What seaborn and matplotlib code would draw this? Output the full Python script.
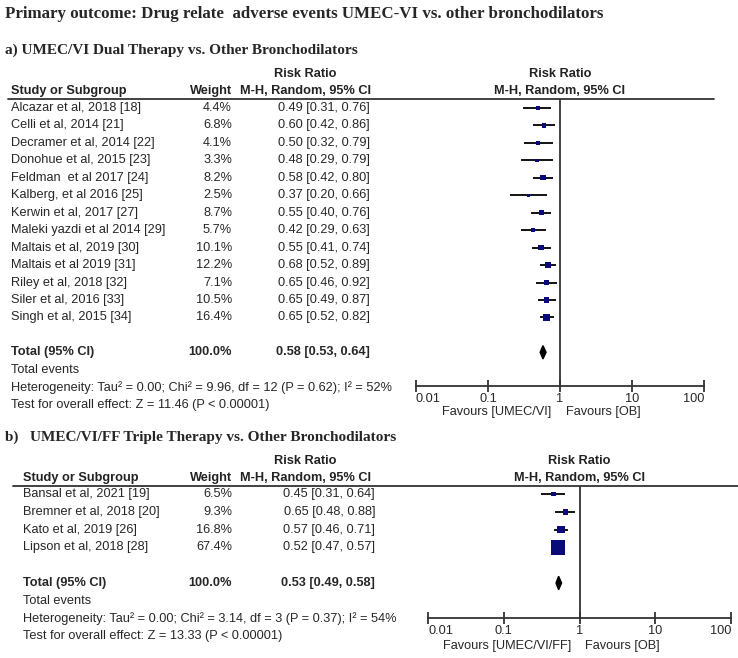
import numpy as np
import pandas as pd
import matplotlib
matplotlib.use("Agg")
import matplotlib.pyplot as plt
import seaborn as sns

# panel a data
studies_a = ["Alcazar et al, 2018 [18]", "Celli et al, 2014 [21]", "Decramer et al, 2014 [22]",
             "Donohue et al, 2015 [23]", "Feldman  et al 2017 [24]", "Kalberg, et al 2016 [25]",
             "Kerwin et al, 2017 [27]", "Maleki yazdi et al 2014 [29]", "Maltais et al, 2019 [30]",
             "Maltais et al 2019 [31]", "Riley et al, 2018 [32]", "Siler et al, 2016 [33]",
             "Singh et al, 2015 [34]"]
weight_a = [4.4, 6.8, 4.1, 3.3, 8.2, 2.5, 8.7, 5.7, 10.1, 12.2, 7.1, 10.5, 16.4]
rr_a = [0.49, 0.60, 0.50, 0.48, 0.58, 0.37, 0.55, 0.42, 0.55, 0.68, 0.65, 0.65, 0.65]
lo_a = [0.31, 0.42, 0.32, 0.29, 0.42, 0.20, 0.40, 0.29, 0.41, 0.52, 0.46, 0.49, 0.52]
hi_a = [0.76, 0.86, 0.79, 0.79, 0.80, 0.66, 0.76, 0.63, 0.74, 0.89, 0.92, 0.87, 0.82]
total_a = [0.58, 0.53, 0.64]
het_a = "Heterogeneity: Tau\u00b2 = 0.00; Chi\u00b2 = 9.96, df = 12 (P = 0.62); I\u00b2 = 52%"
test_a = "Test for overall effect: Z = 11.46 (P < 0.00001)"

# panel b data
studies_b = ["Bansal et al, 2021 [19]", "Bremner et al, 2018 [20]", "Kato et al, 2019 [26]",
             "Lipson et al, 2018 [28]"]
weight_b = [6.5, 9.3, 16.8, 67.4]
rr_b = [0.45, 0.65, 0.57, 0.52]
lo_b = [0.31, 0.48, 0.46, 0.47]
hi_b = [0.64, 0.88, 0.71, 0.57]
total_b = [0.53, 0.49, 0.58]
het_b = "Heterogeneity: Tau\u00b2 = 0.00; Chi\u00b2 = 3.14, df = 3 (P = 0.37); I\u00b2 = 54%"
test_b = "Test for overall effect: Z = 13.33 (P < 0.00001)"

ticks = [0.01, 0.1, 1, 10, 100]
tick_labels = ["0.01", "0.1", "1", "10", "100"]

sns.set_style("white")
plt.rcParams['font.family'] = ['Liberation Sans', 'DejaVu Sans']

W, H = 738, 658
fig = plt.figure(figsize=(W / 100, H / 100), dpi=100)
FS = 9.2
SERIF = ['Liberation Serif', 'DejaVu Serif']


def txt(x, y, s, **kw):
    # place text using pixel coords of the reference picture
    kw.setdefault("va", "center")
    kw.setdefault("fontsize", FS)
    fig.text(x / W, 1 - y / H, s, **kw)


def hline(x0, x1, y, lw=1.3):
    fig.add_artist(plt.Line2D([x0 / W, x1 / W], [1 - y / H, 1 - y / H],
                              color="#333333", lw=lw, transform=fig.transFigure))


def favours(ax, left_lab, right_lab, y):
    ax.annotate(left_lab, xy=(1, 0), xycoords=("data", "axes fraction"), xytext=(-6, -y),
                textcoords="offset points", ha="right", va="center", fontsize=FS)
    ax.annotate(right_lab, xy=(1, 0), xycoords=("data", "axes fraction"), xytext=(4, -y),
                textcoords="offset points", ha="left", va="center", fontsize=FS)


def build(studies, weight, rr, lo, hi, total, het, test, box, head_y, row0, step, name_x, ci_x):
    left, right, top, bottom = box
    ax = fig.add_axes([left / W, 1 - bottom / H, (right - left) / W, (bottom - top) / H])
    n = len(studies)
    df = pd.DataFrame({"rr": rr, "lo": lo, "hi": hi, "weight": weight, "row": np.arange(n)})
    tot_row = n + 1
    ax.set_xscale("log")
    ax.set_xlim(0.01, 100)
    ax.set_ylim((bottom - row0) / step, (top - row0) / step)
    ax.hlines(df["row"], df["lo"], df["hi"], color="black", lw=1.3)
    sns.scatterplot(data=df, x="rr", y="row", size="weight",
                    sizes=(min(weight) * 1.8, max(weight) * 1.6),
                    size_norm=(min(weight), max(weight)), marker="s", color="#0a0a78",
                    edgecolor="#0a0a78", linewidth=0, legend=False, ax=ax, zorder=3)
    est, tlo, thi = total
    ax.fill([tlo, est, thi, est], [tot_row, tot_row - 0.38, tot_row, tot_row + 0.38],
            color="black", zorder=3)
    ax.axvline(1, color="#333333", lw=1.3)
    for s in ["top", "right", "left"]:
        ax.spines[s].set_visible(False)
    ax.spines["bottom"].set_color("#333333")
    ax.spines["bottom"].set_linewidth(1.3)
    ax.set_xticks(ticks)
    ax.set_xticklabels(tick_labels, fontsize=FS)
    labs = ax.get_xticklabels()
    labs[0].set_horizontalalignment("left")
    labs[-1].set_horizontalalignment("right")
    ax.minorticks_off()
    ax.tick_params(axis="x", direction="inout", length=8, width=1.3, color="#333333", pad=1,
                   bottom=True)
    ax.set_yticks([])
    ax.set_xlabel("")
    ax.set_ylabel("")

    cx = (left + right) / 2
    for x in [305, cx]:
        txt(x, head_y - 17, "Risk Ratio", ha="center", weight="bold", color="#222222")
        txt(x, head_y, "M-H, Random, 95% CI", ha="center", weight="bold", color="#222222")
    txt(name_x, head_y, "Study or Subgroup", weight="bold", color="#222222")
    txt(232, head_y, "Weight", ha="right", weight="bold", color="#222222")

    for i in range(n):
        y = row0 + i * step
        txt(name_x, y, studies[i])
        txt(232, y, "%.1f%%" % weight[i], ha="right")
        txt(ci_x, y, "%.2f [%.2f, %.2f]" % (rr[i], lo[i], hi[i]), ha="right")
    y = row0 + tot_row * step
    txt(name_x, y, "Total (95% CI)", weight="bold")
    txt(232, y, "100.0%", ha="right", weight="bold")
    txt(ci_x, y, "%.2f [%.2f, %.2f]" % (est, tlo, thi), ha="right", weight="bold")
    txt(name_x, y + step, "Total events")
    txt(name_x, y + 2 * step, het)
    txt(name_x, y + 3 * step, test)
    return ax


# titles
txt(5, 14, "Primary outcome: Drug relate  adverse events UMEC-VI vs. other bronchodilators",
    family=SERIF, weight="bold", fontsize=12.2)
txt(5, 50, "a) UMEC/VI Dual Therapy vs. Other Bronchodilators", family=SERIF, weight="bold",
    fontsize=11)
txt(5, 437, "b)   UMEC/VI/FF Triple Therapy vs. Other Bronchodilators", family=SERIF,
    weight="bold", fontsize=11)

hline(8, 714, 99)
hline(13, 738, 486)

ax_a = build(studies_a, weight_a, rr_a, lo_a, hi_a, total_a, het_a, test_a,
             (416, 704, 99, 386), 91, 108, 17.45, 11, 370)
favours(ax_a, "Favours [UMEC/VI]", "Favours [OB]", 19)

ax_b = build(studies_b, weight_b, rr_b, lo_b, hi_b, total_b, het_b, test_b,
             (428, 731, 486, 618), 478, 494, 17.8, 23, 375)
favours(ax_b, "Favours [UMEC/VI/FF]", "Favours [OB]", 20)

fig.savefig("out.png", dpi=100)
